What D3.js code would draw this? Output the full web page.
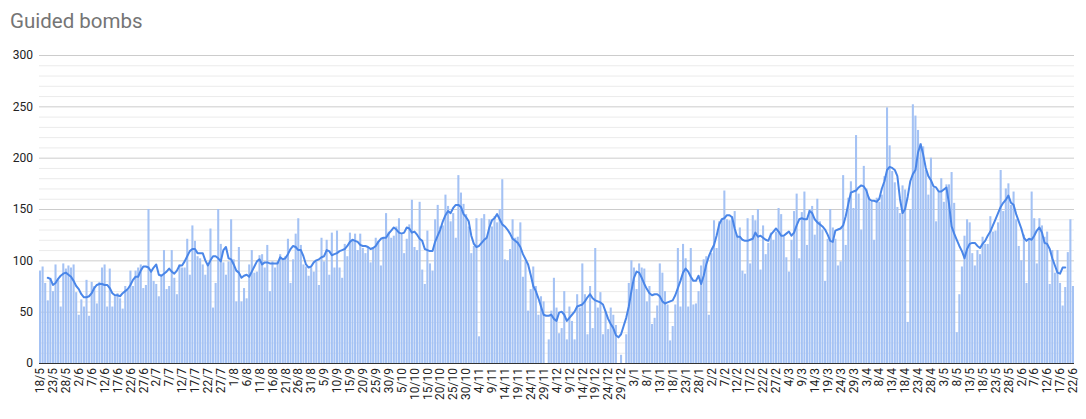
<!DOCTYPE html>
<html><head><meta charset="utf-8">
<script src="https://cdn.jsdelivr.net/npm/d3@7"></script>
<style>body{margin:0;background:#fff}svg{display:block}text{font-family:Roboto,"Liberation Sans",Arial,sans-serif}</style>
</head><body><svg id="c" width="1086" height="419"></svg>
<script>
const chartTitle = "Guided bombs";
const startDate = new Date(2024, 4, 18);   // first day (18/5)
const endDate = new Date(2025, 5, 23);     // exclusive (last day 22/6)
const tickLabels = ["18/5","23/5","28/5","2/6","7/6","12/6","17/6","22/6","27/6","2/7","7/7","12/7","17/7","22/7","27/7","1/8","6/8","11/8","16/8","21/8","26/8","31/8","5/9","10/9","15/9","20/9","25/9","30/9","5/10","10/10","15/10","20/10","25/10","30/10","4/11","9/11","14/11","19/11","24/11","29/11","4/12","9/12","14/12","19/12","24/12","29/12","3/1","8/1","13/1","18/1","23/1","28/1","2/2","7/2","12/2","17/2","22/2","27/2","4/3","9/3","14/3","19/3","24/3","29/3","3/4","8/4","13/4","18/4","23/4","28/4","3/5","8/5","13/5","18/5","23/5","28/5","2/6","7/6","12/6","17/6","22/6"];
const yTicks = [0, 50, 100, 150, 200, 250, 300];

// daily guided bombs (bars)
const bombs = [
90,94,78,61,83,70,96,82,55,97,
92,95,93,96,69,47,62,55,81,46,
79,75,58,79,93,96,55,92,55,65,
68,63,53,75,71,90,75,90,93,96,
73,76,150,89,80,77,65,86,110,72,
75,110,83,67,96,93,93,121,86,134,
119,104,102,96,86,96,131,54,78,150,
116,98,86,99,140,101,60,113,60,73,
63,96,110,88,89,105,106,93,115,70,
99,93,99,106,101,104,121,78,101,126,
141,115,96,94,85,93,89,99,76,122,
99,120,86,127,93,129,93,83,116,104,
127,120,126,110,126,112,107,113,98,112,
122,119,95,122,146,128,122,124,133,141,
125,107,121,135,159,113,110,157,91,77,
129,97,90,140,154,133,134,164,153,138,
146,122,183,166,155,145,133,107,114,141,
26,141,145,122,140,133,143,137,150,179,
101,100,111,140,122,123,137,84,99,51,
72,94,75,47,65,60,0,23,51,83,
54,29,34,70,23,55,41,23,67,54,
97,67,28,75,34,112,54,69,28,50,
33,54,47,37,0,8,0,28,78,100,
93,72,97,93,92,60,75,38,44,56,
97,88,70,57,22,36,57,112,55,116,
102,55,112,57,58,70,95,101,104,47,
107,139,112,138,139,168,140,139,143,148,
123,132,90,87,141,97,144,139,150,91,
134,106,117,127,120,128,151,145,123,103,
89,120,148,165,102,147,167,115,150,153,
125,160,138,130,80,121,150,132,121,95,
99,183,115,161,177,151,222,165,130,192,
170,162,157,120,161,157,164,182,249,212,
187,176,152,146,173,169,40,150,252,241,
227,214,211,188,164,200,171,138,167,180,
157,174,174,186,156,30,67,94,124,140,
137,107,95,110,106,123,116,116,143,128,
129,137,188,148,170,175,154,167,140,114,
100,125,78,120,167,141,97,141,134,123,
128,77,110,88,110,78,56,74,108,140,
75];

// 7-day average line, first point at day index 3
const avgStart = 3;
const movingAvg = [
83,82,76,78,82,85,87,
88,86,84,80,75,72,67,64,64,65,
68,73,76,77,77,76,76,73,68,66,
66,65,68,70,72,76,81,84,84,90,
94,94,93,89,93,96,86,85,87,89,
92,89,87,90,95,95,99,104,109,111,
111,107,107,107,100,95,100,104,104,102,
99,110,113,102,101,96,90,88,83,85,
86,84,89,94,99,101,96,98,98,97,
97,97,97,103,101,102,106,111,114,113,
110,110,104,96,93,94,98,100,101,103,
104,110,109,105,106,107,109,110,111,114,
118,120,119,118,115,114,114,113,111,112,
114,118,121,122,122,126,129,132,130,127,
126,127,132,131,127,128,125,121,119,111,
110,109,109,118,124,130,138,144,148,146,
151,154,154,152,145,142,138,124,116,113,
114,117,120,122,132,139,141,145,140,135,
133,130,126,121,119,117,113,106,101,96,
86,75,70,63,55,47,46,46,47,43,
41,49,50,47,41,44,47,50,55,56,
57,60,64,67,63,61,60,59,57,50,
43,38,34,27,25,28,36,44,55,70,
83,89,88,83,77,72,68,66,67,67,
65,60,58,59,60,61,66,73,80,88,
92,89,84,80,80,85,77,85,96,104,
110,115,124,135,140,141,144,144,142,131,
123,123,120,119,119,120,121,127,123,124,
122,120,119,125,128,131,128,124,124,126,
128,124,127,134,140,141,140,140,148,146,
140,137,135,133,130,125,119,118,129,130,
131,134,143,155,166,167,168,171,173,172,
168,160,158,158,157,160,170,177,188,191,
190,188,182,160,146,150,162,177,184,188,
205,213,203,190,182,178,172,171,167,167,
169,171,155,133,126,120,114,109,102,111,
116,117,117,114,112,116,119,124,128,134,
140,146,152,156,159,163,156,154,145,138,
131,122,119,121,120,124,129,132,127,117,
116,111,102,95,88,87,93,93];

const days = d3.timeDay.range(startDate, endDate);
const L = 39, R = 1074, T = 55, B = 363;
const svg = d3.select("#c");

const x = d3.scaleBand().domain(d3.range(days.length)).range([L, R]).paddingInner(0.2).paddingOuter(0);
const y = d3.scaleLinear().domain([0, 300]).range([B, T]);

// title
svg.append("text").attr("x", 10).attr("y", 28).attr("font-size", 20.5).attr("fill", "#757575").text(chartTitle);

// gridlines (minor every 10, major every 50)
svg.append("g").attr("transform", `translate(${L},0)`)
  .call(d3.axisLeft(y).tickValues(d3.range(0, 301, 10)).tickSize(-(R - L)).tickFormat(""))
  .call(g => g.select(".domain").remove())
  .call(g => g.selectAll(".tick line")
    .attr("stroke", d => d % 50 === 0 ? "#cccccc" : "#ebebeb"));

// y labels
svg.append("g").attr("transform", `translate(${L},0)`)
  .call(d3.axisLeft(y).tickValues(yTicks).tickSize(0).tickPadding(6))
  .call(g => g.select(".domain").remove())
  .call(g => g.selectAll("text").attr("font-size", 12).attr("fill", "#222")
    .attr("font-family", "Roboto, 'Liberation Sans', Arial, sans-serif"));

// bars
svg.append("g").selectAll("rect").data(bombs).join("rect")
  .attr("x", (d, i) => x(i))
  .attr("y", d => y(d))
  .attr("width", x.bandwidth())
  .attr("height", d => B - y(d))
  .attr("fill", "#a4c2f4");

// baseline
svg.append("line").attr("x1", L).attr("x2", R).attr("y1", B + 0.5).attr("y2", B + 0.5)
  .attr("stroke", "#333").attr("stroke-width", 1);

// moving average line
const line = d3.line()
  .x((d, i) => x(i + avgStart) + x.bandwidth() / 2)
  .y(d => y(d));
svg.append("path").datum(movingAvg).attr("d", line)
  .attr("fill", "none").attr("stroke", "#4a86e8").attr("stroke-width", 2)
  .attr("stroke-linejoin", "round").attr("stroke-linecap", "round");

// x labels
svg.append("g").attr("transform", `translate(0,${B})`)
  .call(d3.axisBottom(x).tickValues(d3.range(0, days.length, 5)).tickFormat(i => tickLabels[i / 5]).tickSize(0))
  .call(g => g.select(".domain").remove())
  .call(g => g.selectAll("text")
    .attr("transform", "rotate(-90)")
    .attr("text-anchor", "end")
    .attr("x", -5).attr("y", 0).attr("dy", "0.35em")
    .attr("font-size", 12).attr("fill", "#222")
    .attr("font-family", "Roboto, 'Liberation Sans', Arial, sans-serif"));
</script>
</body></html>
